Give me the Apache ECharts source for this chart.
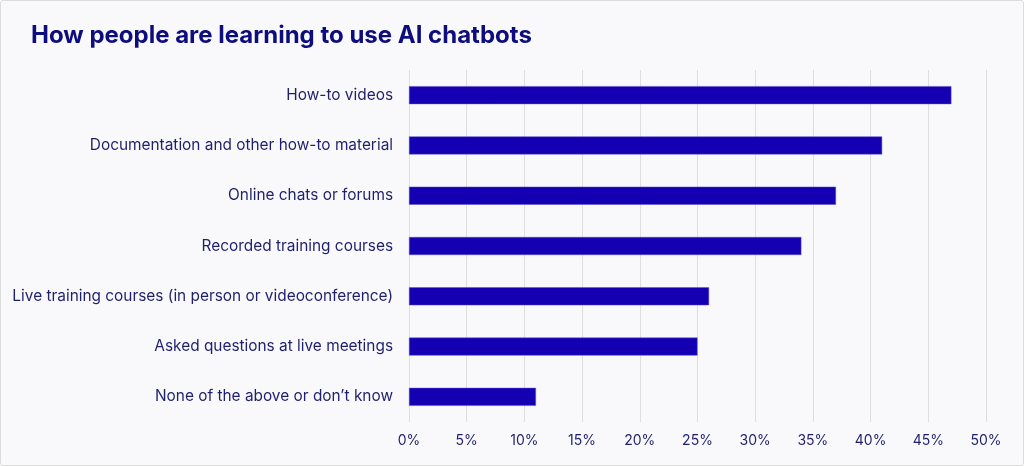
<!DOCTYPE html>
<html>
<head>
<meta charset="utf-8">
<script src="https://cdn.jsdelivr.net/npm/echarts@6/dist/echarts.min.js"></script>
<style>
  html, body { margin: 0; padding: 0; background: #fff; }
  #chart1 {
    width: 1022px; height: 464px;
    border: 1px solid #dcdcdc; border-radius: 3px;
    background: #f9f9fb;
  }
</style>
</head>
<body>
<div id="chart1"></div>
<script>
// 数据
var categories = [
  'How-to videos',
  'Documentation and other how-to material',
  'Online chats or forums',
  'Recorded training courses',
  'Live training courses (in person or videoconference)',
  'Asked questions at live meetings',
  'None of the above or don\u2019t know'
];
var values = [47, 41, 37, 34, 26, 25, 11];

var chart1 = echarts.init(document.getElementById('chart1'));

var option1 = {
  title: {
    text: 'How people are learning to use AI chatbots',
    left: 25,
    top: 18,
    textStyle: {
      color: '#0d0d7d',
      fontSize: 24,
      fontWeight: 'bold',
      fontFamily: 'Inter'
    }
  },
  grid: {
    left: 408,
    right: 37,
    top: 69,
    bottom: 43
  },
  xAxis: {
    type: 'value',
    min: 0,
    max: 50,
    interval: 5,
    axisLine: { show: false },
    axisTick: { show: false },
    axisLabel: {
      formatter: '{value}%',
      color: '#1f1f6e',
      fontSize: 14,
      fontFamily: 'Inter',
      margin: 12
    },
    splitLine: { lineStyle: { color: '#dedede', width: 1 } }
  },
  yAxis: {
    type: 'category',
    inverse: true,
    data: categories,
    axisLine: { show: false },
    axisTick: { show: false },
    axisLabel: {
      color: '#1f1f6e',
      fontSize: 15.4,
      fontFamily: 'Inter',
      margin: 16
    }
  },
  series: [
    {
      type: 'bar',
      data: values,
      barWidth: 18,
      itemStyle: { color: '#1400b2', borderColor: '#5a4fd0', borderWidth: 0.5 }
    }
  ]
};

chart1.setOption(option1);

window.onresize = function(){
  chart1.resize();
};
</script>
</body>
</html>
